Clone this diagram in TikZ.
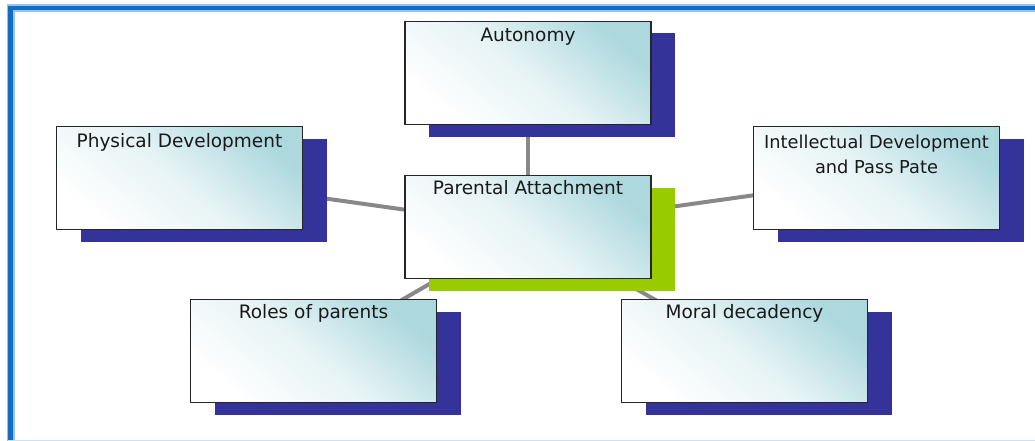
\documentclass[tikz,border=0pt]{standalone}
\usepackage{fontspec}
\setmainfont{DejaVu Sans}
\usetikzlibrary{shadows,backgrounds}
\definecolor{navyshadow}{RGB}{51,51,153}
\definecolor{greenshadow}{RGB}{153,204,0}
\definecolor{tealfill}{RGB}{172,216,222}
\definecolor{framecol}{RGB}{16,108,196}
\definecolor{framelight}{RGB}{150,196,236}
\definecolor{connc}{RGB}{136,136,136}
\tikzset{
  boxst/.style={draw=black!85, line width=1.6pt, minimum width=246pt, minimum height=103pt, inner sep=0pt,
    top color=tealfill, bottom color=white, middle color=tealfill!30!white, shading angle=-40},
  navyshad/.style={drop shadow={shadow xshift=24pt, shadow yshift=-12pt, fill=navyshadow, opacity=1}},
  greenshad/.style={drop shadow={shadow xshift=24pt, shadow yshift=-12pt, fill=greenshadow, opacity=1}},
  lbl/.style={font=\fontsize{18.5}{25}\selectfont, text=black!90, inner sep=0pt, align=center},
  conn/.style={draw=connc, line width=4pt}
}
\begin{document}
\begin{tikzpicture}[x=1pt,y=-1pt]
\useasboundingbox (0,0) rectangle (1035,441);
% frame
\draw[framelight, line width=8pt] (10.5,447) -- (10.5,8) -- (1045,8);
\draw[framecol, line width=4.5pt] (10.5,447) -- (10.5,8) -- (1045,8);
\draw[framelight!50!white, line width=1.5pt] (8,440.5) -- (1035,440.5);
% boxes
\node[boxst, navyshad] (aut) at (528,73) {};
\node[boxst, navyshad] (phy) at (179.5,178) {};
\node[boxst, greenshad] (par) at (528,227) {};
\node[boxst, navyshad] (int) at (876.5,178) {};
\node[boxst, navyshad] (rol) at (313.5,351) {};
\node[boxst, navyshad] (mor) at (744.5,351) {};
% labels
\node[lbl, anchor=base] (autT) at ([yshift=-21pt]aut.north) {Autonomy};
\node[lbl, anchor=base] (phyT) at ([yshift=-22pt]phy.north) {Physical Development};
\node[lbl, anchor=base] (parT) at ([yshift=-20pt]par.north) {Parental Attachment};
\node[lbl, anchor=north, font=\fontsize{17.8}{25}\selectfont] (intT) at ([yshift=-9pt]int.north) {Intellectual Development\\and Pass Pate};
\node[lbl, anchor=base] (rolT) at ([yshift=-20pt]rol.north) {Roles of parents};
\node[lbl, anchor=base] (morT) at ([yshift=-20pt]mor.north) {Moral decadency};
% connectors
\begin{scope}[on background layer]
\draw[conn] (par.center) -- (aut.center);
\draw[conn] (par.center) -- (phy.center);
\draw[conn] (par.center) -- (int.center);
\draw[conn] (par.center) -- (rol.center);
\draw[conn] (par.center) -- (mor.center);
\end{scope}
\end{tikzpicture}
\end{document}
